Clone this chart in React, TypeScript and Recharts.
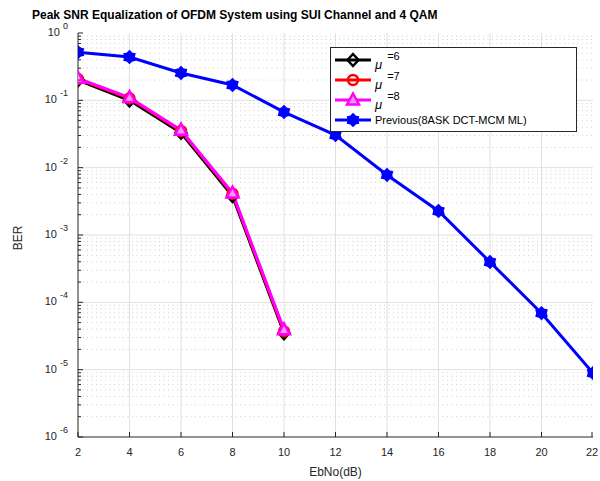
import React from 'react';
import { LineChart, Line, XAxis, YAxis, ReferenceLine } from 'recharts';

// EbNo (dB) values on the x axis
const ebno = [2, 4, 6, 8, 10, 12, 14, 16, 18, 20, 22];
// BER of the three mu settings (only measured up to 10 dB)
const berMu6 = [0.2, 0.1, 0.033, 0.0038, 3.5e-5];
const berMu7 = [0.207, 0.107, 0.035, 0.0041, 3.7e-5];
const berMu8 = [0.212, 0.11, 0.036, 0.0042, 3.9e-5];
// BER of the previous 8ASK DCT-MCM ML scheme
const berPrevious = [0.52, 0.44, 0.255, 0.169, 0.067, 0.0305, 0.0078, 0.00227, 3.97e-4, 6.9e-5, 8.9e-6];

const xTicks = [2, 4, 6, 8, 10, 12, 14, 16, 18, 20, 22];
const decadeExps = [-6, -5, -4, -3, -2, -1, 0];
const minorMults = [2, 3, 4, 5, 6, 7, 8, 9];

const majorTicks = decadeExps.map((e) => Math.pow(10, e));
const minorTicks = decadeExps.slice(0, -1).flatMap((e) => minorMults.map((m) => m * Math.pow(10, e)));
const allYTicks = [...majorTicks, ...minorTicks].sort((a, b) => a - b);

const data = ebno.map((x, i) => ({
  x,
  mu6: berMu6[i],
  mu7: berMu7[i],
  mu8: berMu8[i],
  prev: berPrevious[i],
}));

const AXIS = '#262626';
const FONT = '"Liberation Sans", Arial, Helvetica, sans-serif';

const isMajor = (v: number) => {
  const e = Math.round(Math.log10(v));
  return Math.abs(Math.log10(v) - e) < 1e-6;
};

const LeftTick = (props: any) => {
  const { x, y, payload } = props;
  const v = payload.value;
  const major = isMajor(v);
  const e = Math.round(Math.log10(v));
  return (
    <g>
      <line x1={x} x2={x + (major ? 5 : 3)} y1={y} y2={y} stroke={AXIS} />
      {major && (
        <text x={x - 10} y={y + 3} textAnchor="end" fontSize={11} fill={AXIS} fontFamily={FONT}>
          10
          <tspan dx={3} dy={-7} fontSize={9}>{e}</tspan>
        </text>
      )}
    </g>
  );
};

const RightTick = (props: any) => {
  const { x, y, payload } = props;
  const major = isMajor(payload.value);
  return <line x1={x} x2={x - (major ? 5 : 3)} y1={y} y2={y} stroke={AXIS} />;
};

const BottomTick = (props: any) => {
  const { x, y, payload } = props;
  return (
    <g>
      <line x1={x} x2={x} y1={y} y2={y - 5} stroke={AXIS} />
      <text x={x} y={y + 19} textAnchor="middle" fontSize={11} fill={AXIS} fontFamily={FONT}>
        {payload.value}
      </text>
    </g>
  );
};

const TopTick = (props: any) => {
  const { x, y } = props;
  return <line x1={x} x2={x} y1={y} y2={y + 5} stroke={AXIS} />;
};

const Diamond = ({ cx, cy }: any) =>
  cx == null || cy == null ? null : (
    <polygon
      points={`${cx},${cy - 6} ${cx + 5.5},${cy} ${cx},${cy + 6} ${cx - 5.5},${cy}`}
      fill="none"
      stroke="#000000"
      strokeWidth={2.5}
    />
  );

const Circle = ({ cx, cy }: any) =>
  cx == null || cy == null ? null : (
    <circle cx={cx} cy={cy} r={5} fill="none" stroke="#ff0000" strokeWidth={2.5} />
  );

const Triangle = ({ cx, cy }: any) =>
  cx == null || cy == null ? null : (
    <polygon
      points={`${cx},${cy - 6.5} ${cx + 6},${cy + 4.5} ${cx - 6},${cy + 4.5}`}
      fill="#ff99ff"
      stroke="#ff00ff"
      strokeWidth={2.5}
    />
  );

const hexPoints = (cx: number, cy: number, ro: number, ri: number) => {
  const pts: string[] = [];
  for (let i = 0; i < 12; i++) {
    const r = i % 2 === 0 ? ro : ri;
    const a = (Math.PI / 6) * i - Math.PI / 2;
    pts.push(`${cx + r * Math.cos(a)},${cy + r * Math.sin(a)}`);
  }
  return pts.join(' ');
};

const Hexagram = ({ cx, cy }: any) =>
  cx == null || cy == null ? null : (
    <polygon points={hexPoints(cx, cy, 6.2, 4.5)} fill="#0000ff" stroke="#0000ff" strokeWidth={1.5} />
  );

const legendItems = [
  { color: '#000000', marker: Diamond, mu: '6' },
  { color: '#ff0000', marker: Circle, mu: '7' },
  { color: '#ff00ff', marker: Triangle, mu: '8' },
  { color: '#0000ff', marker: Hexagram, label: 'Previous(8ASK DCT-MCM ML)' },
];

export default function App() {
  return (
    <div style={{ position: 'absolute', left: 0, top: 0, width: 600, height: 481, background: '#fff', fontFamily: FONT }}>
      <div
        style={{
          position: 'absolute',
          left: 32,
          top: 7,
          fontSize: 12,
          fontWeight: 'bold',
          lineHeight: '16px',
          color: '#000',
          whiteSpace: 'nowrap',
        }}
      >
        Peak SNR Equalization of OFDM System using SUI Channel and 4 QAM
      </div>
      <LineChart width={600} height={481} data={data} margin={{ top: 33, right: 7, bottom: 0, left: 0 }}>
        <XAxis
          xAxisId="b"
          dataKey="x"
          type="number"
          domain={[2, 22]}
          ticks={xTicks}
          allowDataOverflow
          height={44}
          tickSize={0}
          tickMargin={0}
          tickLine={false}
          tick={<BottomTick />}
          axisLine={{ stroke: AXIS }}
          label={{ value: 'EbNo(dB)', position: 'insideBottom', offset: 5, fontSize: 12, fill: AXIS, fontFamily: FONT }}
        />
        <XAxis
          xAxisId="t"
          orientation="top"
          type="number"
          domain={[2, 22]}
          ticks={xTicks}
          allowDataOverflow
          height={0}
          tickSize={0}
          tickMargin={0}
          tickLine={false}
          tick={<TopTick />}
          axisLine={{ stroke: AXIS }}
        />
        <YAxis
          yAxisId="l"
          scale="log"
          type="number"
          domain={[1e-6, 1]}
          ticks={allYTicks}
          interval={0}
          allowDataOverflow
          width={78}
          tickSize={0}
          tickMargin={0}
          tickLine={false}
          tick={<LeftTick />}
          axisLine={{ stroke: AXIS }}
          label={{
            content: (p: any) => {
              const vb = p.viewBox || { x: 0, y: 33, width: 78, height: 404 };
              const cx = 22;
              const cy = vb.y + vb.height / 2 + 3;
              return (
                <text x={cx} y={cy} transform={`rotate(-90 ${cx} ${cy})`} textAnchor="middle" fontSize={12} fill={AXIS} fontFamily={FONT}>
                  BER
                </text>
              );
            },
          }}
        />
        <YAxis
          yAxisId="r"
          orientation="right"
          scale="log"
          type="number"
          domain={[1e-6, 1]}
          ticks={allYTicks}
          interval={0}
          allowDataOverflow
          width={0}
          tickSize={0}
          tickMargin={0}
          tickLine={false}
          tick={<RightTick />}
          axisLine={{ stroke: AXIS }}
        />
        {minorTicks.map((v) => (
          <ReferenceLine key={'m' + v} xAxisId="b" yAxisId="l" y={v} stroke="#cfcfcf" strokeDasharray="1 3.5" />
        ))}
        {majorTicks.slice(1, -1).map((v) => (
          <ReferenceLine key={'M' + v} xAxisId="b" yAxisId="l" y={v} stroke="#e0e0e0" />
        ))}
        {xTicks.slice(1, -1).map((v) => (
          <ReferenceLine key={'V' + v} xAxisId="b" yAxisId="l" x={v} stroke="#e0e0e0" />
        ))}
        <Line xAxisId="b" yAxisId="l" dataKey="mu6" stroke="#000000" strokeWidth={3} dot={<Diamond />} isAnimationActive={false} />
        <Line xAxisId="b" yAxisId="l" dataKey="mu7" stroke="#ff0000" strokeWidth={3} dot={<Circle />} isAnimationActive={false} />
        <Line xAxisId="b" yAxisId="l" dataKey="mu8" stroke="#ff00ff" strokeWidth={3} dot={<Triangle />} isAnimationActive={false} />
        <Line xAxisId="b" yAxisId="l" dataKey="prev" stroke="#0000ff" strokeWidth={3} dot={<Hexagram />} isAnimationActive={false} />
      </LineChart>
      <div
        style={{
          position: 'absolute',
          left: 330,
          top: 47,
          width: 245,
          height: 81,
          border: '1px solid #262626',
          background: '#fff',
          paddingTop: 2,
        }}
      >
        {legendItems.map((it, i) => {
          const M = it.marker;
          return (
            <div key={i} style={{ height: 20, display: 'flex', alignItems: 'center' }}>
              <svg width={44} height={20} style={{ flex: 'none' }}>
                <line x1={4} x2={40} y1={10} y2={10} stroke={it.color} strokeWidth={3} />
                <M cx={22} cy={10} />
              </svg>
              {it.mu ? (
                <span style={{ fontSize: 11, color: '#000', whiteSpace: 'nowrap' }}>
                  <span style={{ fontStyle: 'italic', fontSize: 13, position: 'relative', top: 4 }}>μ</span>
                  <span style={{ position: 'relative', top: -5, marginLeft: 5 }}>={it.mu}</span>
                </span>
              ) : (
                <span style={{ fontSize: 11, color: '#000', whiteSpace: 'nowrap' }}>{it.label}</span>
              )}
            </div>
          );
        })}
      </div>
    </div>
  );
}
